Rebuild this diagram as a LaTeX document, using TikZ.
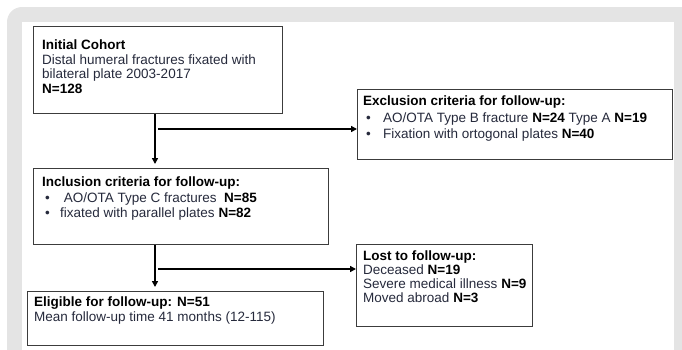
\documentclass[tikz,border=0pt]{standalone}
\usepackage{fontspec}
\setmainfont{Liberation Sans}
\usetikzlibrary{arrows.meta}
\definecolor{framegray}{RGB}{228,228,228}
\definecolor{boxline}{RGB}{60,60,60}
\definecolor{bodytext}{RGB}{38,42,60}
\tikzstyle{flowbox} = [rectangle, draw=boxline, line width=1.3pt, fill=white, inner sep=0pt, anchor=north west]
\tikzstyle{boxtext} = [anchor=north west, inner sep=0pt, align=left, text=bodytext]
\tikzstyle{flowarrow} = [line width=2pt, draw=black, -{Triangle[length=6pt,width=6pt]}]
\newcommand{\fs}[1]{\fontsize{13.5}{#1}\selectfont}
\newcommand{\bul}[1]{\hspace{3pt}\makebox[#1][l]{•}}
\newcommand{\nb}[1]{\textbf{\color{black}#1}}

\begin{document}
\begin{tikzpicture}[x=1pt, y=-1pt]
			\useasboundingbox (0,0) rectangle (682,349);
			\clip (0,0) rectangle (682,349);
			% frame
			\fill[framegray, rounded corners=15pt] (7,7) rectangle (720,400);
			\fill[white] (22,22) rectangle (674,400);
			% boxes
			\node[flowbox, minimum width=249pt, minimum height=87pt] (init) at (33,26) {};
			\node[flowbox, minimum width=315pt, minimum height=70pt] (excl) at (357,89) {};
			\node[flowbox, minimum width=295pt, minimum height=76pt] (incl) at (33,168) {};
			\node[flowbox, minimum width=176pt, minimum height=82pt] (lost) at (356,244) {};
			\node[flowbox, minimum width=296pt, minimum height=54pt] (elig) at (27,291) {};
			% connectors
			\coordinate (forkA) at (155,129);
			\coordinate (forkB) at (155,269);
			\draw[flowarrow] (init.south -| forkA) -- ([yshift=4pt]incl.north -| forkA);
			\draw[flowarrow] ([xshift=3pt]forkA) -- (forkA -| excl.west);
			\draw[flowarrow] (incl.south -| forkB) -- ([yshift=4pt]elig.north -| forkB);
			\draw[flowarrow] ([xshift=3pt]forkB) -- (forkB -| lost.west);
			% texts
			\node[boxtext, font=\fs{14.5}] (initTxt) at (42,40) {\nb{Initial Cohort}\\
				Distal humeral fractures fixated with\\
				bilateral plate 2003-2017\\
				\nb{N=128}};
			\node[boxtext, font=\fs{16.5}] (exclTxt) at (363,96) {\nb{Exclusion criteria for follow-up:}\\
				\bul{17pt}AO/OTA Type B fracture \nb{N=24} Type A \nb{N=19}\\
				\bul{17pt}Fixation with ortogonal plates \nb{N=40}};
			\node[boxtext, font=\fs{15.5}] (inclTxt) at (42,177) {\nb{Inclusion criteria for follow-up:}\\
				\bul{15pt}\ AO/OTA Type C fractures \ \nb{N=85}\\
				\bul{15pt}fixated with parallel plates \nb{N=82}};
			\node[boxtext, font=\fs{14}] (lostTxt) at (363,251) {\nb{Lost to follow-up:}\\
				Deceased \nb{N=19}\\
				Severe medical illness \nb{N=9}\\
				Moved abroad \nb{N=3}};
			\node[boxtext, font=\fs{15}] (eligTxt) at (34,297) {\nb{Eligible for follow-up: N=51}\\
				Mean follow-up time 41 months (12-115)};
		\end{tikzpicture}
\end{document}
